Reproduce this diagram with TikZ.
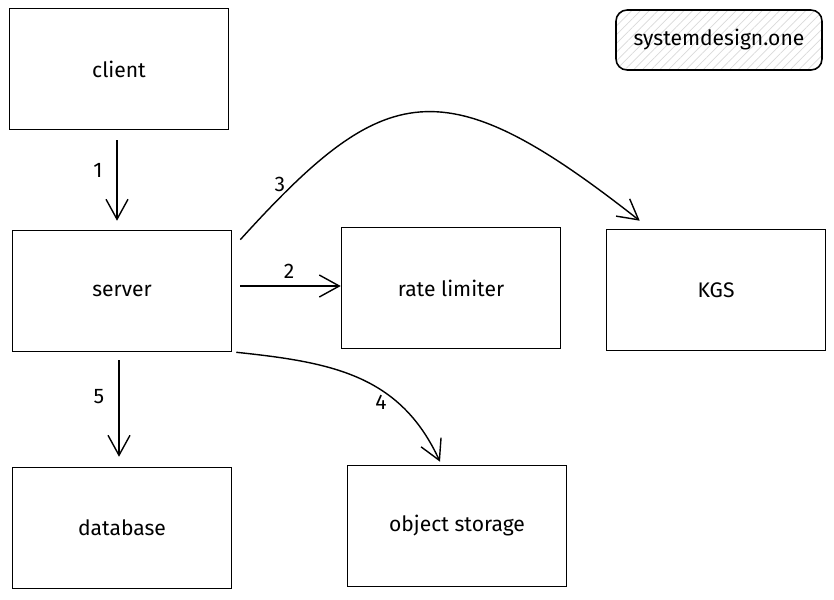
\documentclass[tikz,border=0pt]{standalone}
\usepackage{fontspec}
\setmainfont{Fira Sans}
\usetikzlibrary{arrows.meta,patterns.meta}

\begin{document}
\begin{tikzpicture}[x=0.02cm,y=-0.02cm]
\tikzstyle{every node}+=[inner sep=0pt]
\tikzstyle{box}=[draw, line width=0.9pt, minimum width=4.38cm, minimum height=2.42cm, font=\large]
\tikzstyle{flow}=[draw, line width=0.8pt, -{Straight Barb[length=0.4cm,width=0.44cm]}]
\tikzstyle{num}=[font=\large]
\useasboundingbox (0,0) rectangle (834,599);
% boxes
\node [box] (client) at (119,69) {client};
\node [box] (server) at (122,291) {server};
\node [box] (rate) at (451,288) {rate limiter};
\node [box] (kgs) at (716,290) {KGS};
\node [box] (db) at (122,528) {database};
\node [box] (store) at (457,526) {object storage};
\node [draw, line width=0.9pt, rounded corners=0.22cm, minimum width=4.12cm, minimum height=1.2cm, font=\large,
  pattern={Lines[angle=45,distance=3.5pt,line width=0.4pt]}, pattern color=black!15] (brand) at (719,40) {systemdesign.one};
% connectors
\draw [flow] ([shift={(-2,10)}]client.south) -- ([shift={(-5,-9)}]server.north);
\node [num] (n1) at (98,170) {1};
\draw [flow] ([shift={(8,-5)}]server.east) -- ([shift={(0,-2)}]rate.west);
\node [num] (n2) at (289,271) {2};
\draw [flow] ([shift={(8,10)}]server.north east) .. controls +(145,-160) and +(-197,-155) .. ([shift={(34,-8)}]kgs.north west);
\node [num] (n3) at (280,184) {3};
\draw [flow] ([shift={(4,0)}]server.south east) .. controls +(95,10) and +(-40,-87) .. ([shift={(-17,-3)}]store.north);
\node [num] (n4) at (381,402) {4};
\draw [flow] ([shift={(-3,8)}]server.south) -- ([shift={(-3,-10)}]db.north);
\node [num] (n5) at (99,397) {5};
\end{tikzpicture}
\end{document}
